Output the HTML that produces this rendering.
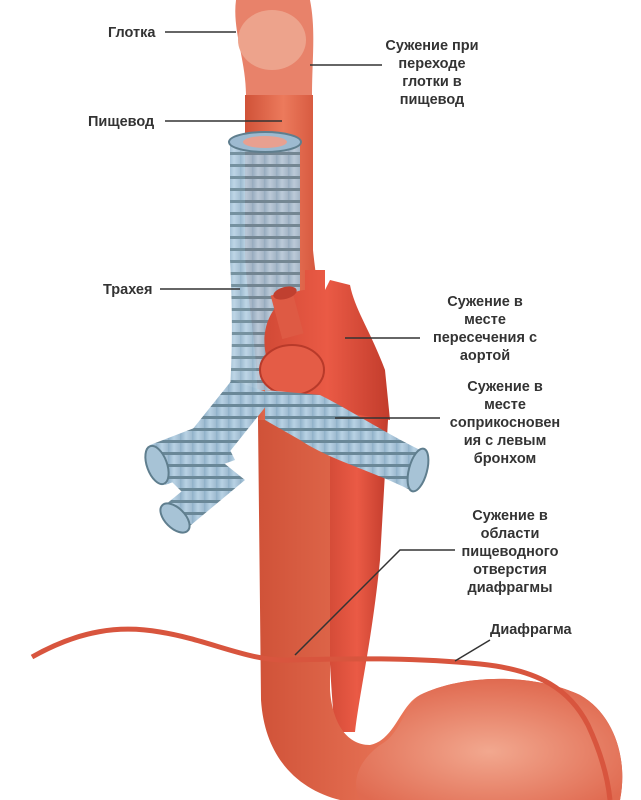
<!DOCTYPE html>
<html><head><meta charset="utf-8"><style>
body{margin:0;background:#fff;width:641px;height:800px;overflow:hidden}
svg{display:block}
text{font-family:"Liberation Sans",sans-serif;font-weight:bold;font-size:14.5px;fill:#333}
</style></head><body>
<svg width="641" height="800" viewBox="0 0 641 800">
<defs>
<linearGradient id="es" x1="0" x2="1"><stop offset="0" stop-color="#d05238"/><stop offset=".45" stop-color="#ec7a5c"/><stop offset="1" stop-color="#cc4a32"/></linearGradient>
<linearGradient id="ao" x1="0" x2="1"><stop offset="0" stop-color="#d24a36"/><stop offset=".5" stop-color="#ea5a45"/><stop offset="1" stop-color="#c23c2c"/></linearGradient>
<radialGradient id="st" cx=".5" cy=".6" r=".6"><stop offset="0" stop-color="#f2a88f"/><stop offset="1" stop-color="#e06a50"/></radialGradient>
<linearGradient id="tr" x1="0" x2="1"><stop offset="0" stop-color="#8fb0c8"/><stop offset=".5" stop-color="#b8d2e4"/><stop offset="1" stop-color="#9fbbd0"/></linearGradient>
<pattern id="rings" width="12" height="12" patternUnits="userSpaceOnUse"><rect width="12" height="12" fill="url(#tr)"/><rect y="8" width="12" height="3" fill="#6a8898"/></pattern>
</defs>
<path d="M330 340 C360 330 390 360 388 420 L380 560 C372 640 360 690 355 732 L335 732 C330 680 326 600 326 520 Z" fill="url(#ao)"/>
<path d="M245 95 L313 95 L313 250 C318 300 330 350 330 420 L258 420 C258 340 246 300 245 250 Z" fill="url(#es)"/>
<path d="M258 420 L261 700 C265 760 300 790 340 800 L620 800 C628 760 615 715 580 695 C530 672 460 675 420 695 C400 705 395 740 370 745 C345 745 332 720 330 690 L330 420 Z" fill="url(#es)"/>
<path d="M380 745 C400 735 405 705 420 695 C460 675 530 672 580 695 C615 715 628 760 620 800 L360 800 C350 780 360 760 380 745 Z" fill="url(#st)"/>
<path d="M236 0 L310 0 C316 30 312 60 312 95 L246 95 C246 60 232 30 236 0 Z" fill="#e8826a"/>
<ellipse cx="272" cy="40" rx="34" ry="30" fill="#eda38c"/>
<path d="M230 140 L300 140 L300 300 C300 330 285 370 280 390 L230 390 C233 340 232 300 230 260 Z" fill="url(#rings)" opacity=".92"/>
<ellipse cx="265" cy="142" rx="36" ry="10" fill="#9dbad0" stroke="#5f7e8e" stroke-width="2"/>
<ellipse cx="265" cy="142" rx="22" ry="6" fill="#e8a090"/>
<path d="M232 380 L275 395 L215 470 L185 495 L160 470 Z" fill="url(#rings)"/>
<path d="M150 445 L215 420 L235 460 L165 485 Z" fill="url(#rings)"/>
<ellipse cx="157" cy="465" rx="10" ry="20" fill="#a7c3d6" stroke="#5f7e8e" stroke-width="2" transform="rotate(-20 157 465)"/>
<path d="M220 460 L245 480 L185 530 L165 505 Z" fill="url(#rings)"/>
<ellipse cx="175" cy="518" rx="10" ry="18" fill="#a7c3d6" stroke="#5f7e8e" stroke-width="2" transform="rotate(-45 175 518)"/>
<path d="M265 350 C260 310 290 290 305 290 L305 270 L325 270 L325 290 L330 280 L350 285 C355 310 370 330 385 370 L390 420 L330 410 C300 400 270 390 265 350 Z" fill="url(#ao)"/>
<rect x="276" y="292" width="22" height="45" fill="#de5a44" transform="rotate(-15 287 314)"/>
<ellipse cx="285" cy="293" rx="12" ry="6" fill="#c04030" transform="rotate(-15 285 293)"/>
<ellipse cx="292" cy="370" rx="32" ry="25" fill="#e45c46" stroke="#b83a2a" stroke-width="2"/>
<path d="M265 390 L320 395 C350 410 380 430 420 450 L410 490 C370 470 330 460 300 440 L265 420 Z" fill="url(#rings)"/>
<ellipse cx="418" cy="470" rx="9" ry="22" fill="#a7c3d6" stroke="#5f7e8e" stroke-width="2" transform="rotate(15 418 470)"/>
<path d="M32 657 C80 630 120 625 160 632 C210 640 250 662 290 660 C360 658 420 658 480 664 C540 670 570 690 588 725 C602 755 608 780 610 800" fill="none" stroke="#d8553e" stroke-width="5"/>
<g stroke="#333" stroke-width="1.5" fill="none">
<line x1="165" y1="32" x2="236" y2="32"/>
<line x1="310" y1="65" x2="382" y2="65"/>
<line x1="165" y1="121" x2="282" y2="121"/>
<line x1="160" y1="289" x2="240" y2="289"/>
<line x1="345" y1="338" x2="420" y2="338"/>
<line x1="335" y1="418" x2="440" y2="418"/>
<polyline points="295,655 400,550 455,550"/>
<line x1="455" y1="661" x2="490" y2="640"/>
</g>
<text x="108" y="37">Глотка</text>
<text x="88" y="126">Пищевод</text>
<text x="103" y="294">Трахея</text>
<g text-anchor="middle">
<text x="432" y="50">Сужение при</text><text x="432" y="68">переходе</text><text x="432" y="86">глотки в</text><text x="432" y="104">пищевод</text>
<text x="485" y="306">Сужение в</text><text x="485" y="324">месте</text><text x="485" y="342">пересечения с</text><text x="485" y="360">аортой</text>
<text x="505" y="391">Сужение в</text><text x="505" y="409">месте</text><text x="505" y="427">соприкосновен</text><text x="505" y="445">ия с левым</text><text x="505" y="463">бронхом</text>
<text x="510" y="520">Сужение в</text><text x="510" y="538">области</text><text x="510" y="556">пищеводного</text><text x="510" y="574">отверстия</text><text x="510" y="592">диафрагмы</text>
</g>
<text x="490" y="634">Диафрагма</text>
</svg>
</body></html>
